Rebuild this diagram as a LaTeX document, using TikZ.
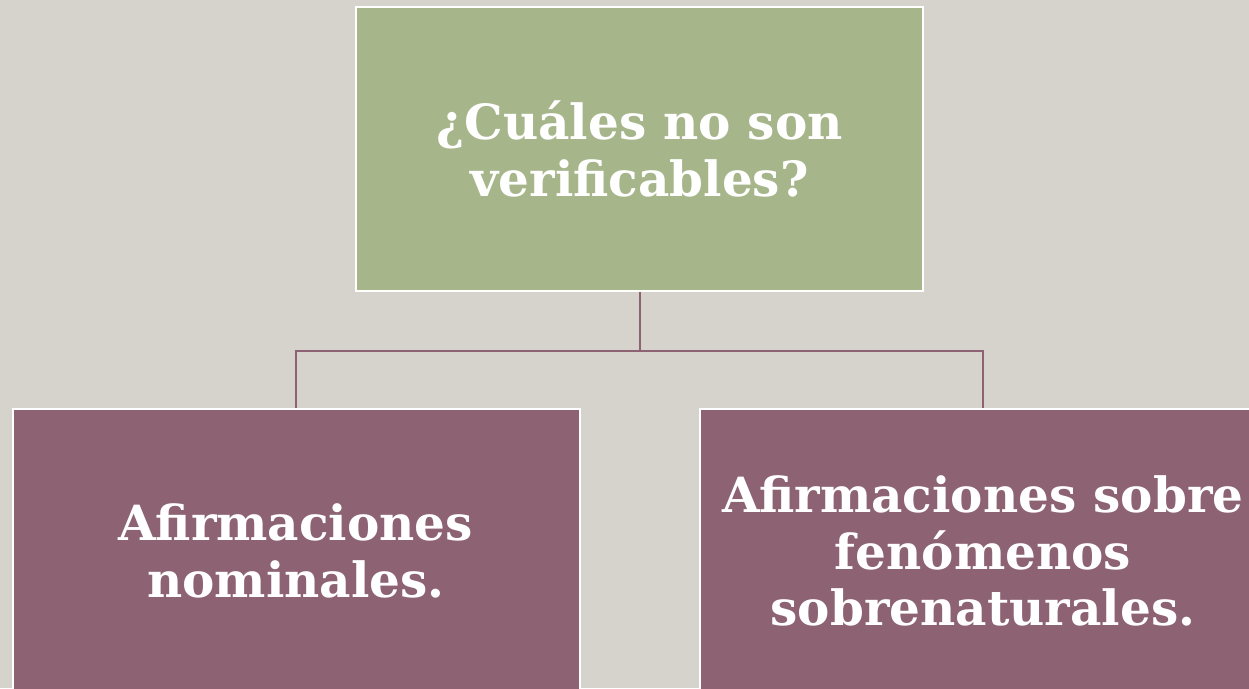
\documentclass[tikz,border=0pt]{standalone}
\usepackage{fontspec}
\setmainfont{DejaVu Serif}
\usetikzlibrary{calc}
\definecolor{bgc}{HTML}{D6D3CC}
\definecolor{greenc}{HTML}{A7B68A}
\definecolor{mauvec}{HTML}{8D6272}
\tikzset{
  box/.style={draw=white, line width=2pt, minimum width=567pt, minimum height=284pt,
    inner sep=0pt, text=white, align=center,
    font=\fontsize{48.5}{56.5}\selectfont\bfseries},
  conn/.style={draw=mauvec, line width=2pt}
}
\begin{document}
\begin{tikzpicture}[x=1pt,y=1pt]
\useasboundingbox (0,0) rectangle (1249,688);
\fill[bgc] (0,0) rectangle (1249,688);
\clip (0,0) rectangle (1249,688);
\node[box, fill=greenc] (top) at (639.5,539) {¿Cuáles no son\\verificables?};
\node[box, fill=mauvec] (left) at (296,137) {Afirmaciones\\nominales.};
\node[box, fill=mauvec] (right) at (983,137) {Afirmaciones sobre\\fenómenos\\sobrenaturales.};
\draw[conn] (top.south) -- ++(0,-59) coordinate (j) -| (left.north);
\draw[conn] (j) -| (right.north);
\end{tikzpicture}
\end{document}
